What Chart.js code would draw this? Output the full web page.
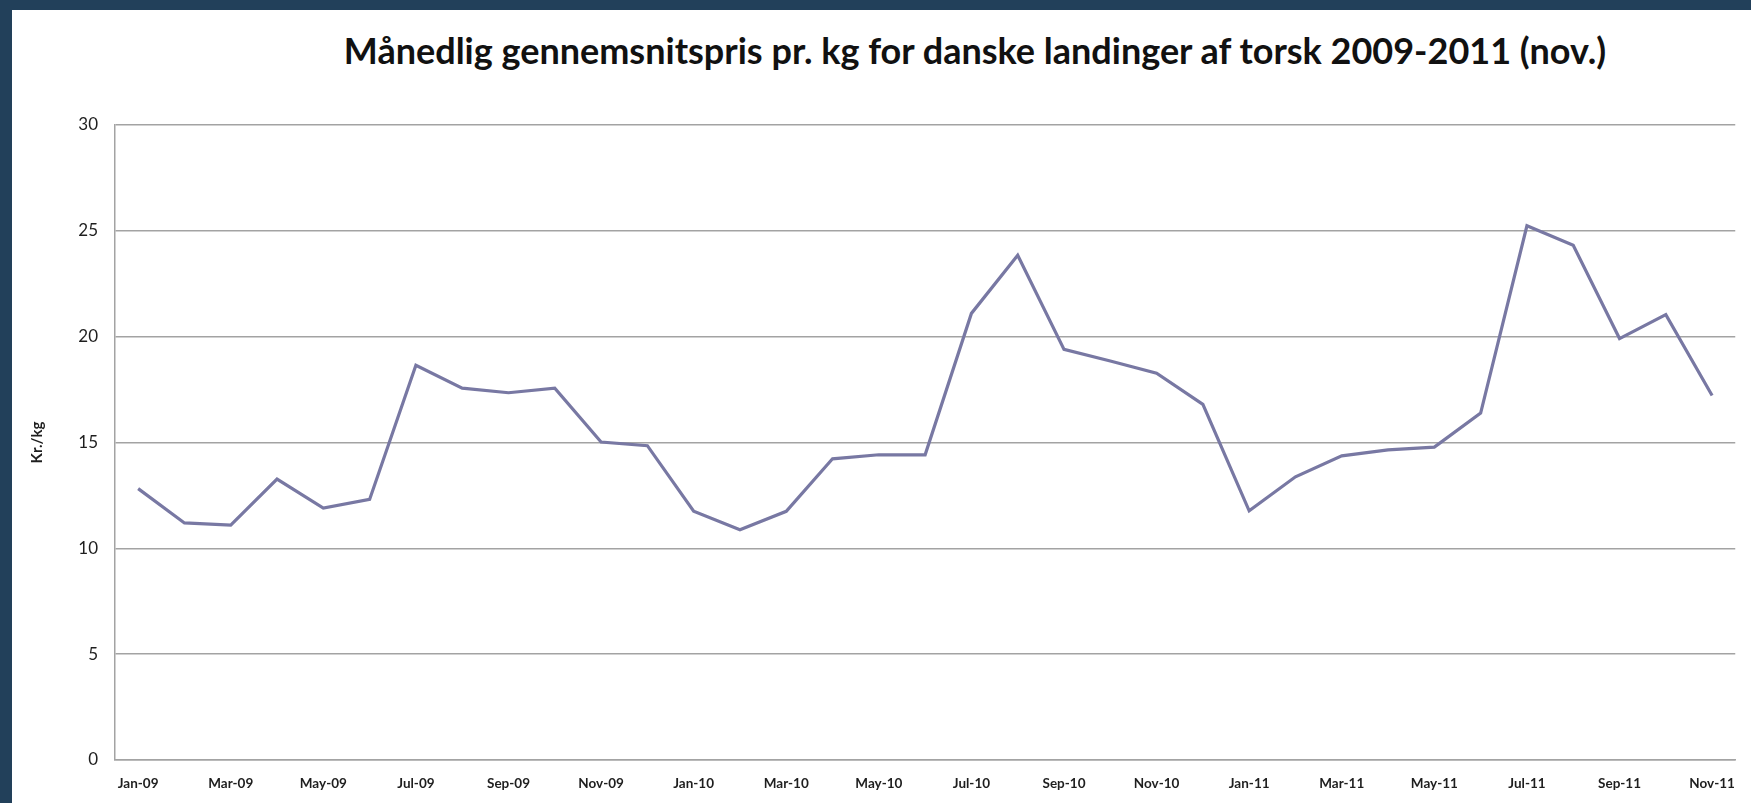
<!DOCTYPE html>
<html>
<head>
<meta charset="utf-8">
<script src="https://cdn.jsdelivr.net/npm/chart.js@4.4.0/dist/chart.umd.min.js"></script>
<style>
  html, body { margin: 0; padding: 0; width: 100%; height: 100%; background: #fff; overflow: hidden; }
  #bandTop { position: absolute; left: 0; top: 0; right: 0; height: 10px; background: #22405a; }
  #bandLeft { position: absolute; left: 0; top: 0; bottom: 0; width: 12px; background: #22405a; }
  #wrap { position: absolute; left: 12px; top: 10px; right: 0; bottom: 0; background: #fff; overflow: hidden; }
  #title { position: absolute; left: 963px; top: 19px; transform: translateX(-50%); white-space: nowrap;
           font: bold 36px Lato, sans-serif; line-height: 42px; color: #111; }
  canvas { position: absolute; left: 0; top: 0; }
</style>
</head>
<body>
<div id="bandTop"></div>
<div id="bandLeft"></div>
<div id="wrap">
  <div id="title">Månedlig gennemsnitspris pr. kg for danske landinger af torsk 2009-2011 (nov.)</div>
  <canvas id="chart" width="1739" height="793"></canvas>
</div>
<script>
// months Jan-09 .. Nov-11
const months = [
  "Jan-09", "Feb-09", "Mar-09", "Apr-09", "May-09", "Jun-09", "Jul-09", "Aug-09", "Sep-09", "Oct-09", "Nov-09", "Dec-09",
  "Jan-10", "Feb-10", "Mar-10", "Apr-10", "May-10", "Jun-10", "Jul-10", "Aug-10", "Sep-10", "Oct-10", "Nov-10", "Dec-10",
  "Jan-11", "Feb-11", "Mar-11", "Apr-11", "May-11", "Jun-11", "Jul-11", "Aug-11", "Sep-11", "Oct-11", "Nov-11"
];
// kr. per kg
const prices = [
  12.82, 11.2, 11.1, 13.27, 11.9, 12.31, 18.65, 17.57, 17.35, 17.57, 15.02, 14.85,
  11.75, 10.88, 11.75, 14.23, 14.42, 14.42, 21.1, 23.85, 19.4, 18.85, 18.27, 16.8,
  11.77, 13.38, 14.37, 14.65, 14.78, 16.39, 25.24, 24.32, 19.91, 21.04, 17.22
];
const yMin = 0;
const yMax = 30;
const yStep = 5;
const yTitle = "Kr./kg";

const lineColor = "#7878a3";
const gridColor = "#a3a3a3";
const textColor = "#1e1e1e";

const ctx = document.getElementById("chart");
new Chart(ctx, {
  type: "line",
  data: {
    labels: months,
    datasets: [
      {
        data: prices,
        borderColor: lineColor,
        borderWidth: 3.2,
        pointRadius: 0,
        tension: 0,
        fill: false,
      },
    ],
  },
  options: {
    responsive: false,
    animation: false,
    layout: { padding: { top: 115, right: 8, left: 0, bottom: 0 } },
    plugins: {
      legend: { display: false },
      tooltip: { enabled: false },
    },
    scales: {
      x: {
        offset: true,
        grid: { display: false, drawTicks: false },
        border: { color: gridColor, width: 1.5 },
        ticks: {
          autoSkip: false,
          maxRotation: 0,
          padding: 16,
          color: textColor,
          font: { family: "Lato", size: 13.5, weight: "bold" },
          callback: (v, i) => (i % 2 === 0 ? months[i] : ""),
        },
        afterFit: (s) => { s.height = 43; },
      },
      y: {
        min: yMin,
        max: yMax,
        ticks: {
          stepSize: yStep,
          padding: 17,
          color: textColor,
          font: { family: "Lato", size: 17 },
        },
        grid: { color: gridColor, lineWidth: 1.5, drawTicks: false },
        border: { color: gridColor, width: 1.5 },
        title: {
          display: true,
          text: yTitle,
          color: textColor,
          font: { family: "Lato", size: 15, weight: "bold" },
          padding: { top: 16, bottom: 0 },
        },
        afterFit: (s) => { s.width = 103; },
      },
    },
  },
});
</script>
</body>
</html>
